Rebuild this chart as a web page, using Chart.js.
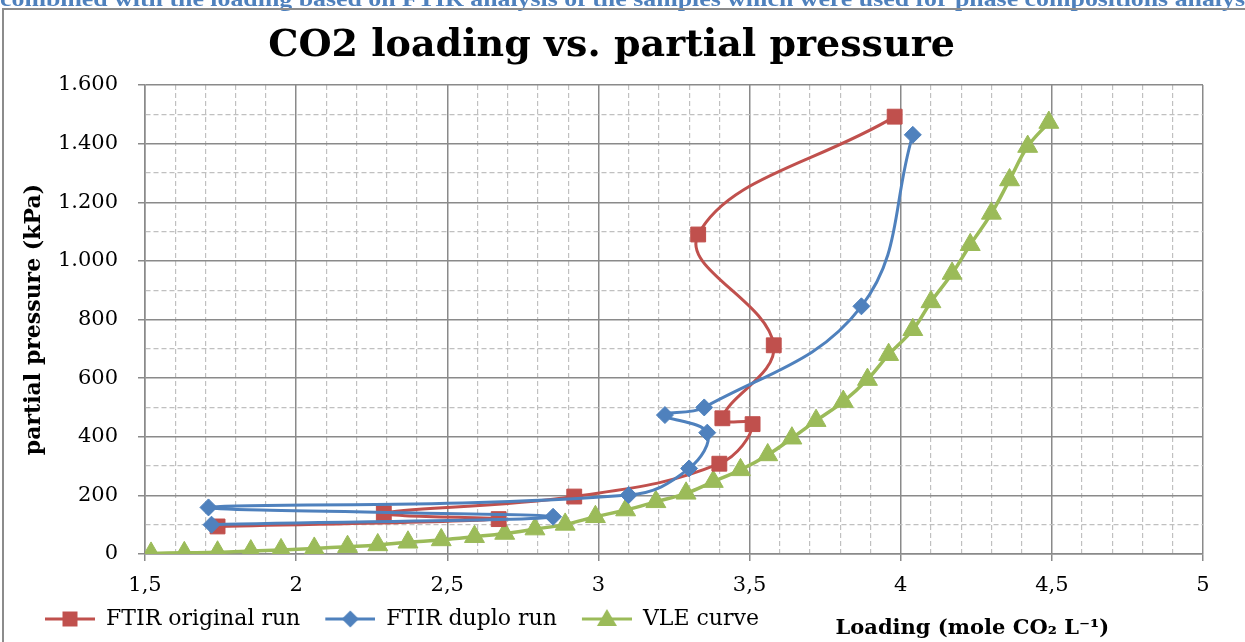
<!DOCTYPE html>
<html>
<head>
<meta charset="utf-8">
<title>CO2 loading vs. partial pressure</title>
<script src="https://cdn.jsdelivr.net/npm/chart.js@4.4.0/dist/chart.umd.min.js"></script>
<style>
    html, body { margin: 0; padding: 0; background: #fff; }
    #wrap { position: relative; width: 1245px; height: 642px; }
</style>
</head>
<body>
<div id="wrap"><canvas id="loading-chart" width="1245" height="642"></canvas></div>
<script>
// FTIR original run: loading (mole CO2 / L) against partial pressure (kPa), in measuring order
var originalLoading = [1.74, 2.67, 2.29, 2.92, 3.40, 3.51, 3.41, 3.58, 3.33, 3.98];
var originalPressure = [94, 119, 139, 196, 308, 443, 463, 712, 1090, 1492];

// FTIR duplo run
var duploLoading = [1.72, 2.85, 1.71, 3.10, 3.30, 3.36, 3.22, 3.35, 3.87, 4.04];
var duploPressure = [100, 127, 159, 201, 292, 414, 474, 500, 845, 1430];

// VLE curve
var vleLoading = [1.52, 1.63, 1.74, 1.85, 1.95, 2.06, 2.17, 2.27, 2.37, 2.48,
                  2.59, 2.69, 2.79, 2.89, 2.99, 3.09, 3.19, 3.29, 3.38, 3.47,
                  3.56, 3.64, 3.72, 3.81, 3.89, 3.96, 4.04, 4.10, 4.17, 4.23,
                  4.30, 4.36, 4.42, 4.49];
var vlePressure = [2, 4, 6, 10, 14, 19, 25, 31, 40, 48,
                   59, 70, 85, 101, 127, 150, 178, 207, 247, 287,
                   338, 395, 455, 520, 595, 680, 765, 860, 957, 1055,
                   1162, 1276, 1390, 1472];

var seriesNames = ['FTIR original run', 'FTIR duplo run', 'VLE curve'];
var xTickLabels = ['1,5', '2', '2,5', '3', '3,5', '4', '4,5', '5'];
var yTickLabels = ['0', '200', '400', '600', '800', '1.000', '1.200', '1.400', '1.600'];

var captionText = 'combined with the loading based on FTIR analysis of the samples which were used for phase compositions analysis';
var captionCut = 'combined with the loading based on FTIR analysis of the samples which were used for phase compositions analys';

var RED = '#c0504d';
var BLUE = '#4f81bd';
var GREEN = '#9bbb59';
var MAJOR_GRID = '#8a8a8a';
var MINOR_GRID = '#c0c0c0';
var SERIF = '"DejaVu Serif", "Liberation Serif", serif';

function toPoints(xs, ys) {
    var pts = [];
    for (var i = 0; i < xs.length; i++) {
        pts.push({ x: xs[i], y: ys[i] });
    }
    return pts;
}

function isMajorX(v) { return Math.abs(v * 2 - Math.round(v * 2)) < 1e-6; }
function isMajorY(v) { return Math.abs(v / 200 - Math.round(v / 200)) < 1e-6; }

// small line + marker swatch used as the legend symbol
function legendSwatch(color, shape) {
    var c = document.createElement('canvas');
    c.width = 65;
    c.height = 22;
    var g = c.getContext('2d');
    g.strokeStyle = color;
    g.fillStyle = color;
    g.lineWidth = 3;
    g.beginPath();
    g.moveTo(15, 11);
    g.lineTo(65, 11);
    g.stroke();
    var cx = 40, cy = 11;
    g.beginPath();
    if (shape === 'rect') {
        g.rect(cx - 7.5, cy - 7.5, 15, 15);
    } else if (shape === 'rectRot') {
        g.moveTo(cx, cy - 8.5); g.lineTo(cx + 8.5, cy); g.lineTo(cx, cy + 8.5); g.lineTo(cx - 8.5, cy);
    } else {
        g.moveTo(cx, cy - 10); g.lineTo(cx + 10, cy + 7); g.lineTo(cx - 10, cy + 7);
    }
    g.closePath();
    g.fill();
    return c;
}

var swatches = [legendSwatch(RED, 'rect'), legendSwatch(BLUE, 'rectRot'), legendSwatch(GREEN, 'triangle')];

var pageDecor = {
    id: 'pageDecor',
    beforeDraw: function (chart) {
        var ctx = chart.ctx;
        ctx.save();
        ctx.font = 'bold 22px "Liberation Serif"';
        var w = ctx.measureText(captionCut).width;
        ctx.fillStyle = BLUE;
        ctx.textBaseline = 'alphabetic';
        ctx.translate(0, 5.5);
        ctx.scale(1245 / w, 1);
        ctx.fillText(captionText, 0, 0);
        ctx.restore();

        ctx.save();
        ctx.strokeStyle = '#8c8c8c';
        ctx.lineWidth = 2;
        ctx.beginPath();
        ctx.moveTo(3, chart.height);
        ctx.lineTo(3, 9);
        ctx.lineTo(chart.width, 9);
        ctx.stroke();
        ctx.restore();
    },
    afterDraw: function (chart) {
        // x axis title sits on the legend row, right of the legend
        var a = chart.chartArea;
        var ctx = chart.ctx;
        ctx.save();
        ctx.font = 'bold 21px ' + SERIF;
        ctx.fillStyle = '#000';
        ctx.textAlign = 'center';
        ctx.textBaseline = 'middle';
        ctx.fillText('Loading (mole CO\u2082 L\u207B\u00B9)', a.left + (a.right - a.left) * 0.782, 629);
        ctx.restore();
    }
};

var ctx = document.getElementById('loading-chart');

new Chart(ctx, {
    type: 'scatter',
    data: {
        datasets: [{
            label: seriesNames[0],
            data: toPoints(originalLoading, originalPressure),
            showLine: true,
            borderColor: RED,
            backgroundColor: RED,
            borderWidth: 3,
            tension: 0.4,
            pointStyle: 'rect',
            pointRadius: 10.5,
            pointBorderWidth: 1,
            order: 1
        }, {
            label: seriesNames[1],
            data: toPoints(duploLoading, duploPressure),
            showLine: true,
            borderColor: BLUE,
            backgroundColor: BLUE,
            borderWidth: 3,
            tension: 0.4,
            pointStyle: 'rectRot',
            pointRadius: 8.5,
            pointBorderWidth: 1,
            order: 0
        }, {
            label: seriesNames[2],
            data: toPoints(vleLoading, vlePressure),
            showLine: true,
            borderColor: GREEN,
            backgroundColor: GREEN,
            borderWidth: 3.5,
            tension: 0.4,
            pointStyle: 'triangle',
            pointRadius: 11.5,
            pointBorderWidth: 1,
            order: 2
        }]
    },
    options: {
        responsive: false,
        animation: false,
        devicePixelRatio: 1,
        layout: { padding: { left: 20, top: 10, right: 42, bottom: 2 } },
        plugins: {
            title: {
                display: true,
                text: 'CO2 loading vs. partial pressure',
                color: '#000',
                font: { family: SERIF, size: 38, weight: 'bold' },
                padding: { top: 13, bottom: 16.4 }
            },
            legend: {
                position: 'bottom',
                align: 'start',
                labels: {
                    usePointStyle: true,
                    pointStyleWidth: 65,
                    padding: 10,
                    color: '#000',
                    font: { family: SERIF, size: 22 },
                    generateLabels: function (chart) {
                        return chart.data.datasets.map(function (ds, i) {
                            return {
                                text: ds.label,
                                fillStyle: ds.backgroundColor,
                                strokeStyle: ds.borderColor,
                                lineWidth: 0,
                                pointStyle: swatches[i],
                                hidden: false,
                                datasetIndex: i,
                                fontColor: '#000'
                            };
                        });
                    }
                }
            },
            tooltip: { enabled: false }
        },
        scales: {
            x: {
                type: 'linear',
                min: 1.5,
                max: 5,
                afterFit: function (scale) { scale.height = 44; },
                ticks: {
                    stepSize: 0.1,
                    autoSkip: false,
                    maxRotation: 0,
                    padding: 12,
                    color: '#000',
                    font: { family: SERIF, size: 21 },
                    callback: function (value) {
                        if (!isMajorX(value)) return '';
                        return xTickLabels[Math.round((value - 1.5) * 2)];
                    }
                },
                grid: {
                    color: function (c) { return c.tick && isMajorX(c.tick.value) ? MAJOR_GRID : MINOR_GRID; },
                    lineWidth: function (c) { return c.tick && isMajorX(c.tick.value) ? 1.5 : 1.2; },
                    tickColor: function (c) { return c.tick && isMajorX(c.tick.value) ? MAJOR_GRID : 'rgba(0,0,0,0)'; },
                    tickLength: 7
                },
                border: {
                    color: MAJOR_GRID,
                    width: 1.5,
                    dash: function (c) { return c.tick && !isMajorX(c.tick.value) ? [5, 3] : []; }
                }
            },
            y: {
                type: 'linear',
                min: 0,
                max: 1600,
                afterFit: function (scale) { scale.width = 125; },
                title: {
                    display: true,
                    text: 'partial pressure (kPa)',
                    color: '#000',
                    font: { family: SERIF, size: 22, weight: 'bold' },
                    padding: { top: 1, bottom: 0 }
                },
                ticks: {
                    stepSize: 100,
                    autoSkip: false,
                    padding: 20,
                    color: '#000',
                    font: { family: SERIF, size: 21 },
                    callback: function (value) {
                        if (!isMajorY(value)) return '';
                        return yTickLabels[Math.round(value / 200)];
                    }
                },
                grid: {
                    color: function (c) { return c.tick && isMajorY(c.tick.value) ? MAJOR_GRID : MINOR_GRID; },
                    lineWidth: function (c) { return c.tick && isMajorY(c.tick.value) ? 1.5 : 1.2; },
                    tickColor: function (c) { return c.tick && isMajorY(c.tick.value) ? MAJOR_GRID : 'rgba(0,0,0,0)'; },
                    tickLength: 7
                },
                border: {
                    color: MAJOR_GRID,
                    width: 1.5,
                    dash: function (c) { return c.tick && !isMajorY(c.tick.value) ? [5, 3] : []; }
                }
            }
        }
    },
    plugins: [pageDecor]
});
</script>
</body>
</html>
